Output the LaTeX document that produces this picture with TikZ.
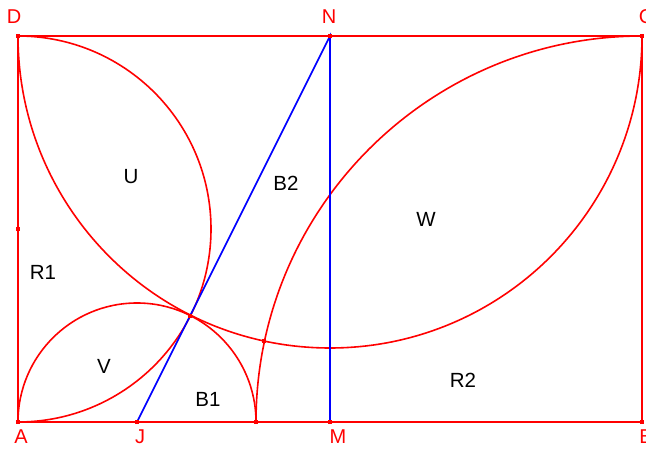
\documentclass[tikz,border=0pt]{standalone}
\usepackage{fontspec}
\setmainfont{Liberation Sans}
\usetikzlibrary{positioning}
\definecolor{geored}{RGB}{255, 0, 0}
\definecolor{geoblue}{RGB}{0, 0, 255}

\begin{document}
\begin{tikzpicture}[
  x=1pt, y=1pt,
  edge/.style={geored, line width=1.6pt},
  seg/.style={geoblue, line width=1.6pt},
  dot/.style={rectangle, fill=geored, inner sep=0pt, minimum size=4.5pt},
  ptlabel/.style={text=geored, font=\fontsize{20}{24}\selectfont},
  region/.style={font=\fontsize{20.5}{24}\selectfont}
]
  \useasboundingbox (0,0) rectangle (646,448);
  \coordinate (A) at (18,26);
  \coordinate (B) at (642,26);
  \coordinate (C) at (642,412);
  \coordinate (D) at (18,412);
  \coordinate (N) at (330,412);
  \coordinate (M) at (330,26);
  \coordinate (J) at (137,26);
  \coordinate (E) at (256,26);
  \coordinate (H) at (18,219);
  \coordinate (P) at (190,132);
  \coordinate (Q) at (264,107);

  \draw[edge] (A) -- (B) -- (C) -- (D) -- cycle;
  \draw[edge] (D) arc[start angle=90, end angle=-90, radius=193];
  \draw[edge] (D) arc[start angle=180, end angle=360, radius=312];
  \draw[edge] (A) arc[start angle=180, end angle=0, radius=119];
  \draw[edge] (E) arc[start angle=180, end angle=90, radius=386];
  \draw[seg] (J) -- (N) -- (M);

  \foreach \p in {A,B,C,D,N,M,J,E,H,P,Q}
    \node[dot] (dot\p) at (\p) {};

  \node[ptlabel] (labD) at (14,431) {D};
  \node[ptlabel] (labN) at (329,431) {N};
  \node[ptlabel] (labC) at (646,431) {C};
  \node[ptlabel] (labA) at (21,11) {A};
  \node[ptlabel] (labJ) at (140,11) {J};
  \node[ptlabel] (labM) at (338,11) {M};
  \node[ptlabel] (labB) at (646,11) {B};

  \node[region] (regU) at (131,271) {U};
  \node[region] (regBtwo) at (286,265) {B2};
  \node[region] (regW) at (426,229) {W};
  \node[region] (regRone) at (43,176) {R1};
  \node[region] (regV) at (104,82) {V};
  \node[region] (regBone) at (208,49) {B1};
  \node[region] (regRtwo) at (463,68) {R2};
\end{tikzpicture}
\end{document}
